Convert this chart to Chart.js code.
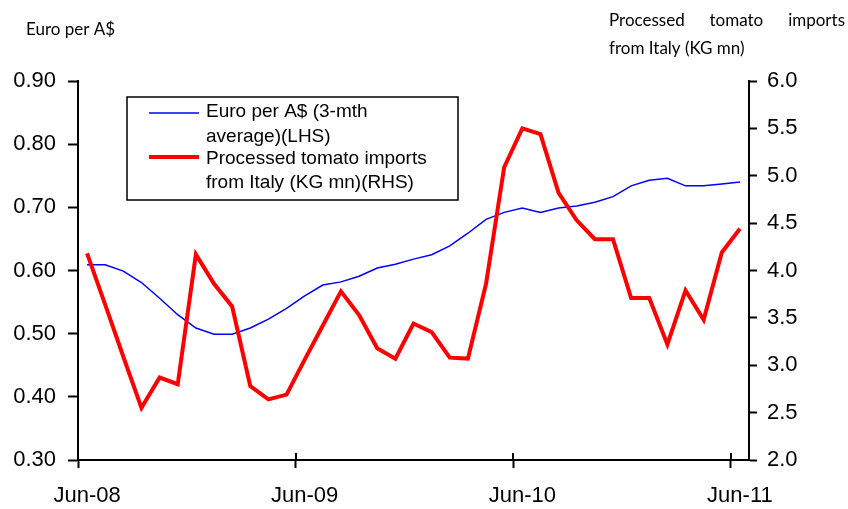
<!DOCTYPE html>
<html lang="en">
<head>
<meta charset="UTF-8">
<title>Euro per A$ and processed tomato imports from Italy</title>
<script src="https://cdn.jsdelivr.net/npm/chart.js@4.4.1/dist/chart.umd.min.js"></script>
<style>
  html, body { margin: 0; padding: 0; background: #fff; }
  #wrap { width: 848px; height: 509px; }
</style>
</head>
<body>
<div id="wrap"><canvas id="chart" width="848" height="509"></canvas></div>
<script>
// monthly categories, Jun-08 .. Jun-11
const months = [
  'Jun-08', 'Jul-08', 'Aug-08', 'Sep-08', 'Oct-08', 'Nov-08', 'Dec-08',
  'Jan-09', 'Feb-09', 'Mar-09', 'Apr-09', 'May-09', 'Jun-09', 'Jul-09',
  'Aug-09', 'Sep-09', 'Oct-09', 'Nov-09', 'Dec-09', 'Jan-10', 'Feb-10',
  'Mar-10', 'Apr-10', 'May-10', 'Jun-10', 'Jul-10', 'Aug-10', 'Sep-10',
  'Oct-10', 'Nov-10', 'Dec-10', 'Jan-11', 'Feb-11', 'Mar-11', 'Apr-11',
  'May-11', 'Jun-11'
];

// Euro per A$ (3-mth average), left axis
const euroAud = [
  0.609, 0.609, 0.599, 0.581, 0.556, 0.530, 0.509, 0.499, 0.499, 0.509,
  0.523, 0.540, 0.560, 0.577, 0.582, 0.591, 0.604, 0.610, 0.618, 0.625,
  0.639, 0.659, 0.681, 0.692, 0.699, 0.692, 0.699, 0.702, 0.708, 0.717,
  0.734, 0.743, 0.746, 0.734, 0.734, 0.737, 0.740
];

// processed tomato imports from Italy (KG mn), right axis
const tomatoImports = [
  4.18, 3.64, 3.09, 2.55, 2.87, 2.80, 4.17, 3.86, 3.62, 2.78,
  2.64, 2.69, 3.06, 3.42, 3.78, 3.53, 3.18, 3.07, 3.44, 3.35,
  3.08, 3.07, 3.86, 5.09, 5.50, 5.44, 4.82, 4.53, 4.33, 4.33,
  3.71, 3.71, 3.22, 3.79, 3.48, 4.19, 4.44
];

const legendLabels = [
  ['Euro per A$ (3-mth', 'average)(LHS)'],
  ['Processed tomato imports', 'from Italy (KG mn)(RHS)']
];
const leftTitle = 'Euro per A$';
const rightTitle = [['Processed', 'tomato', 'imports'], ['from Italy (KG mn)']];

const BLUE = '#0000ff';
const RED = '#ff0000';
const AXIS_FONT = { family: "'Liberation Sans', Arial, sans-serif", size: 22 };

// extra bits: crossing x ticks, titles above the axes, boxed legend
const decorations = {
  id: 'decorations',
  afterDraw(chart) {
    const ctx = chart.ctx;
    const x = chart.scales.x;
    const bottom = chart.chartArea.bottom;
    const half = (x.getPixelForValue(1) - x.getPixelForValue(0)) / 2;

    ctx.save();
    ctx.strokeStyle = '#000';
    ctx.lineWidth = 2;
    for (let i = 0; i < months.length; i += 12) {
      const px = Math.round(x.getPixelForValue(i) - half);
      ctx.beginPath();
      ctx.moveTo(px, bottom - 7);
      ctx.lineTo(px, bottom);
      ctx.stroke();
    }

    // axis titles
    ctx.fillStyle = '#000';
    ctx.textBaseline = 'middle';
    ctx.font = "17px Lato, 'Open Sans', sans-serif";
    ctx.textAlign = 'left';
    ctx.fillText(leftTitle, 26, 30);

    // first line justified between 609 and 845
    const words = rightTitle[0];
    const widths = words.map(w => ctx.measureText(w).width);
    const gap = (845 - 609 - widths.reduce((a, b) => a + b, 0)) / (words.length - 1);
    let wx = 609;
    words.forEach((w, k) => { ctx.fillText(w, wx, 21); wx += widths[k] + gap; });
    ctx.fillText(rightTitle[1][0], 609, 49);

    // legend box
    ctx.lineWidth = 1.5;
    ctx.strokeRect(127, 97, 331, 103);
    const entries = [
      { color: BLUE, width: 1.5, y: 113, lines: legendLabels[0], ty: [112, 137] },
      { color: RED, width: 4, y: 157, lines: legendLabels[1], ty: [159, 183] }
    ];
    ctx.font = "19px 'Liberation Sans', Arial, sans-serif";
    entries.forEach(e => {
      ctx.strokeStyle = e.color;
      ctx.lineWidth = e.width;
      ctx.beginPath();
      ctx.moveTo(149, e.y);
      ctx.lineTo(199, e.y);
      ctx.stroke();
      e.lines.forEach((t, k) => ctx.fillText(t, 206, e.ty[k]));
    });
    ctx.restore();
  }
};

const chart = new Chart(document.getElementById('chart'), {
  type: 'line',
  data: {
    labels: months,
    datasets: [
      {
        label: 'Euro per A$ (3-mth average)(LHS)',
        data: euroAud,
        borderColor: BLUE,
        borderWidth: 1.5,
        pointRadius: 0,
        tension: 0,
        yAxisID: 'y',
        order: 2
      },
      {
        label: 'Processed tomato imports from Italy (KG mn)(RHS)',
        data: tomatoImports,
        borderColor: RED,
        borderWidth: 4,
        pointRadius: 0,
        tension: 0,
        yAxisID: 'y1',
        order: 1
      }
    ]
  },
  options: {
    responsive: false,
    animation: false,
    layout: { padding: { top: 81, left: 0, right: 0, bottom: 0 } },
    plugins: { legend: { display: false }, tooltip: { enabled: false } },
    scales: {
      x: {
        offset: true,
        grid: {
          offset: true,
          drawOnChartArea: false,
          tickLength: 8,
          tickWidth: 2,
          tickColor: c => (c.index % 12 === 0 ? '#000' : 'rgba(0,0,0,0)')
        },
        border: { color: '#000', width: 2 },
        ticks: {
          autoSkip: false,
          maxRotation: 0,
          padding: 15,
          color: '#000',
          font: AXIS_FONT,
          callback: (v, i) => (i % 12 === 0 ? months[i] : '')
        },
        afterFit: s => { s.height = 49; }
      },
      y: {
        position: 'left',
        min: 0.3,
        max: 0.9,
        ticks: { stepSize: 0.1, padding: 12, color: '#000', font: AXIS_FONT,
                 callback: v => v.toFixed(2) },
        grid: { drawOnChartArea: false, tickLength: 10, tickWidth: 2, tickColor: '#000' },
        border: { color: '#000', width: 2 },
        afterFit: s => { s.width = 78; }
      },
      y1: {
        position: 'right',
        min: 2,
        max: 6,
        ticks: { stepSize: 0.5, padding: 10, color: '#000', font: AXIS_FONT,
                 callback: v => v.toFixed(1) },
        grid: { drawOnChartArea: false, tickLength: 8, tickWidth: 2, tickColor: '#000' },
        border: { color: '#000', width: 2 },
        afterFit: s => { s.width = 99; }
      }
    }
  },
  plugins: [decorations]
});
</script>
</body>
</html>
